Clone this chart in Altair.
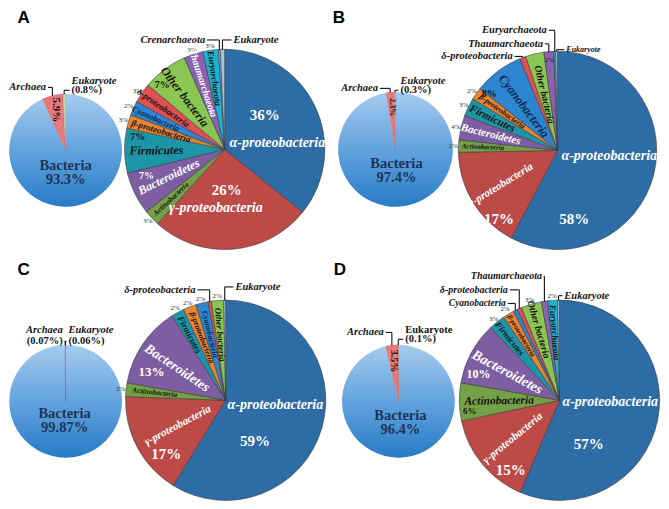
import math
import altair as alt
import pandas as pd

# ---------------- data ----------------
domain_names = ["Bacteria", "Archaea", "Eukaryote"]
domain_A = [93.3, 5.9, 0.8]
domain_B = [97.4, 2.3, 0.3]
domain_C = [99.87, 0.07, 0.06]
domain_D = [96.4, 3.5, 0.1]

taxa_A = ["α-proteobacteria", "γ-proteobacteria", "Actinobacteria", "Bacteroidetes", "Firmicutes",
          "β-proteobacteria", "Cyanobacteria", "δ-proteobacteria", "Other bacteria", "Thaumarchaeota",
          "Euryarchaeota", "Crenarchaeota", "Eukaryote"]
share_A = [35.8, 25.9, 2.6, 6.9, 7.2, 2.2, 2.3, 3.2, 7.3, 3.1, 2.5, 0.3, 0.7]
pct_A = ["36%", "26%", "3%", "7%", "7%", "3%", "2%", "3%", "7%", "3%", "3%", "", ""]

taxa_B = ["α-proteobacteria", "γ-proteobacteria", "Actinobacteria", "Bacteroidetes", "Firmicutes",
          "β-proteobacteria", "Cyanobacteria", "δ-proteobacteria", "Other bacteria", "Thaumarchaeota",
          "Euryarchaeota", "Eukaryote"]
share_B = [57.7, 17.0, 2.0, 4.0, 3.0, 2.0, 8.1, 1.0, 3.0, 1.6, 0.3, 0.3]
pct_B = ["58%", "17%", "2%", "4%", "3%", "2%", "8%", "", "", "2%", "", ""]

taxa_C = ["α-proteobacteria", "γ-proteobacteria", "Actinobacteria", "Bacteroidetes", "Firmicutes",
          "β-proteobacteria", "Cyanobacteria", "δ-proteobacteria", "Other bacteria", "Eukaryote"]
share_C = [58.8, 16.8, 2.2, 13.2, 2.1, 2.1, 2.0, 0.5, 2.0, 0.3]
pct_C = ["59%", "17%", "2%", "13%", "2%", "2%", "2%", "", "2%", ""]

taxa_D = ["α-proteobacteria", "γ-proteobacteria", "Actinobacteria", "Bacteroidetes", "Firmicutes",
          "β-proteobacteria", "Cyanobacteria", "δ-proteobacteria", "Other bacteria", "Thaumarchaeota",
          "Euryarchaeota", "Eukaryote"]
share_D = [56.4, 15.3, 6.1, 10.1, 2.7, 1.8, 0.7, 0.7, 3.3, 1.0, 1.6, 0.3]
pct_D = ["57%", "15%", "6%", "10%", "3%", "2%", "", "", "3%", "", "2%", ""]

# ---------------- layout / styles ----------------
CW, CH = 653, 493              # drawable area inside the 8px page margin
SX, SY = CW / 669.0, CH / 509.0  # map reference-picture coordinates into the drawable area
SR = (SX + SY) / 2
SERIF = "Liberation Serif"
SANS = "Liberation Sans"
W = "#ffffff"
K = "#141414"
NAVY = "#0f2a55"
TAXON_COLORS = {
    "α-proteobacteria": "#2e6ca5", "γ-proteobacteria": "#bc4a47", "Actinobacteria": "#74a046",
    "Bacteroidetes": "#7d5ea2", "Firmicutes": "#1d95a9", "β-proteobacteria": "#ea8431",
    "Cyanobacteria": "#2d84cf", "δ-proteobacteria": "#e05050", "Other bacteria": "#8cc652",
    "Thaumarchaeota": "#8a62b2", "Euryarchaeota": "#1ab3d1", "Crenarchaeota": "#8fa7c4",
    "Eukaryote": "#a4c0e3",
}
DOMAIN_COLORS = {"Archaea": "#e8787a", "Eukaryote": "#c4d89c"}
BACT_GRAD = alt.Gradient(
    gradient="linear",
    stops=[alt.GradientStop(color="#a6cbee", offset=0),
           alt.GradientStop(color="#5c9fdc", offset=0.55),
           alt.GradientStop(color="#287bc5", offset=1)],
    x1=0, x2=0, y1=0, y2=1)

LAB_A = {
    "α-proteobacteria": ("h", 5, -7, "left", 14, W),
    "γ-proteobacteria": ("h", -9, 61, "center", 14, W),
    "Actinobacteria": ("r", 0.73, 7.5, K),
    "Bacteroidetes": ("r", 0.62, 12, W),
    "Firmicutes": ("r", 0.68, 12, K),
    "β-proteobacteria": ("r", 0.66, 9, K),
    "Cyanobacteria": ("r", 0.75, 8.5, NAVY),
    "δ-proteobacteria": ("r", 0.74, 9, K),
    "Other bacteria": ("r", 0.66, 12, K),
    "Thaumarchaeota": ("r", 0.70, 10, W),
    "Euryarchaeota": ("r", 0.72, 9, K),
    "Crenarchaeota": ("lead", 202, 33, "right", 10.5),
    "Eukaryote": ("lead", 231, 33, "left", 10.5),
}
PCT_A = {
    "α-proteobacteria": ("xy", 41, -36, 15, W),
    "γ-proteobacteria": ("xy", 2, 42, 15, W),
    "Bacteroidetes": ("xy", -80, 27, 10, W),
    "Firmicutes": ("xy", -89, -13, 10, K),
    "Other bacteria": ("xy", -64, -67, 10, K),
}
LAB_B = {
    "α-proteobacteria": ("h", 4, 6, "left", 14, W),
    "γ-proteobacteria": ("r", 0.67, 11, W),
    "Actinobacteria": ("r", 0.75, 7, K),
    "Bacteroidetes": ("r", 0.69, 11, W),
    "Firmicutes": ("r", 0.73, 11, K),
    "β-proteobacteria": ("r", 0.68, 8, K),
    "Cyanobacteria": ("r", 0.56, 12.5, NAVY),
    "δ-proteobacteria": ("lead", 517, 50, "right", 10.5),
    "Other bacteria": ("r", 0.58, 10, K),
    "Thaumarchaeota": ("lead", 548, 37, "right", 10.5),
    "Euryarchaeota": ("lead", 552, 23, "right", 10.5),
    "Eukaryote": ("lead", 572, 43, "left", 8),
}
PCT_B = {
    "α-proteobacteria": ("xy", 17, 71, 15, W),
    "γ-proteobacteria": ("xy", -60, 71, 15, W),
    "Cyanobacteria": ("xy", -70, -58, 10, K),
    "Thaumarchaeota": ("r", 0.92, 7, K),
}
LAB_C = {
    "α-proteobacteria": ("h", 2, 5, "left", 14, W),
    "γ-proteobacteria": ("r", 0.54, 11, W),
    "Actinobacteria": ("r", 0.71, 7.5, K),
    "Bacteroidetes": ("r", 0.58, 13.5, W),
    "Firmicutes": ("r", 0.75, 9, K),
    "β-proteobacteria": ("r", 0.67, 8, K),
    "Cyanobacteria": ("r", 0.68, 8, NAVY),
    "δ-proteobacteria": ("lead", 192, 291, "right", 10.5),
    "Other bacteria": ("r", 0.66, 9, K),
    "Eukaryote": ("lead", 233, 288, "left", 10.5),
}
PCT_C = {
    "α-proteobacteria": ("xy", 30, 42, 15, W),
    "γ-proteobacteria": ("xy", -61, 55, 15, W),
    "Bacteroidetes": ("xy", -76, -29, 13, W),
}
LAB_D = {
    "α-proteobacteria": ("h", 3, 2, "left", 14, W),
    "γ-proteobacteria": ("r", 0.6, 11, W),
    "Actinobacteria": ("r", 0.6, 11.5, K),
    "Bacteroidetes": ("r", 0.59, 14, W),
    "Firmicutes": ("r", 0.79, 9, K),
    "β-proteobacteria": ("r", 0.75, 7, K),
    "Cyanobacteria": ("lead", 510, 305, "right", 9.5),
    "δ-proteobacteria": ("lead", 512, 291, "right", 10),
    "Other bacteria": ("r", 0.74, 10, K),
    "Thaumarchaeota": ("lead", 547, 277, "right", 10),
    "Euryarchaeota": ("r", 0.68, 9, K),
    "Eukaryote": ("lead", 570, 297, "left", 10.5),
}
PCT_D = {
    "α-proteobacteria": ("xy", 30, 45, 15, W),
    "γ-proteobacteria": ("xy", -50, 72, 15, W),
    "Actinobacteria": ("xy", -92, 11, 9, K),
    "Bacteroidetes": ("xy", -83, -27, 12, W),
    "β-proteobacteria": ("r", 1.06, 7, "#333333"),
}

PANELS = [
    dict(letter="A", letter_xy=(16, 10),
         small=dict(c=(59, 147), r=58, vals=domain_A, bact=("Bacteria", "93.3%"), bxy=(59, 163),
                    inner=("5.9%", 11, 0.74),
                    leaders=[("Archaea", 39, 82, "right", [("Archaea", 0, True)]),
                             ("Eukaryote", 65, 85, "left", [("Eukaryote", -10, True), ("(0.8%)", 0, False)])]),
         big=dict(c=(222, 146), r=103, names=taxa_A, vals=share_A, pcts=pct_A, lab=LAB_A, pct=PCT_A)),
    dict(letter="B", letter_xy=(339, 10),
         small=dict(c=(397, 146), r=59, vals=domain_B, bact=("Bacteria", "97.4%"), bxy=(398, 161),
                    inner=("2.3%", 8, 0.74),
                    leaders=[("Archaea", 379, 83, "right", [("Archaea", 0, True)]),
                             ("Eukaryote", 402, 85, "left", [("Eukaryote", -10, True), ("(0.3%)", 0, False)])]),
         big=dict(c=(563, 147), r=102, names=taxa_B, vals=share_B, pcts=pct_B, lab=LAB_B, pct=PCT_B)),
    dict(letter="C", letter_xy=(16, 270),
         small=dict(c=(59, 406), r=58, vals=domain_C, bact=("Bacteria", "99.87%"), bxy=(58, 419),
                    inner=None,
                    leaders=[("Archaea", 56, 344, "right", [("Archaea", -12, True), ("(0.07%)", 0, False)]),
                             ("Eukaryote", 62, 344, "left", [("Eukaryote", -12, True), ("(0.06%)", 0, False)])]),
         big=dict(c=(223, 405), r=103, names=taxa_C, vals=share_C, pcts=pct_C, lab=LAB_C, pct=PCT_C)),
    dict(letter="D", letter_xy=(340, 270),
         small=dict(c=(400, 406), r=58, vals=domain_D, bact=("Bacteria", "96.4%"), bxy=(402, 421),
                    inner=("3.5%", 10, 0.72),
                    leaders=[("Archaea", 385, 335, "right", [("Archaea", 0, True)]),
                             ("Eukaryote", 407, 342, "left", [("Eukaryote", -10, False), ("(0.1%)", 0, False)])]),
         big=dict(c=(565, 405), r=103, names=taxa_D, vals=share_D, pcts=pct_D, lab=LAB_D, pct=PCT_D)),
]


# ---------------- helpers ----------------
def M(x, y):
    return x * SX, y * SY


def slice_rows(names, values):
    tot = float(sum(values))
    rows, acc = [], 0.0
    for n, v in zip(names, values):
        s = acc / tot * 100
        acc += v
        e = acc / tot * 100
        rows.append(dict(name=n, start=s, end=e, mid=(s + e) / 2))
    return rows


def polar(cx, cy, r, pct):
    a = pct / 100.0 * 2 * math.pi
    return cx + r * math.sin(a), cy - r * math.cos(a)


def radial_angle(pct):
    th = pct * 3.6
    a = th - 90 if th < 180 else th - 270
    return a % 360


THETA = alt.Theta("start:Q", scale=alt.Scale(domain=[0, 100]))

arc_layers = []
texts = []
segs = []


def add_text(x, y, text, size, color, italic=True, bold=True, align="center", angle=0.0, font=SERIF):
    mx, my = M(x, y)
    texts.append(dict(x=mx, y=my, text=text, size=size, color=color,
                      italic=italic, bold=bold, align=align, angle=angle % 360, font=font))


def add_seg(x1, y1, x2, y2):
    a, b = M(x1, y1)
    c, d = M(x2, y2)
    segs.append(dict(x=a, y=b, x2=c, y2=d))


def add_leader(cx, cy, r, mid, lx, ly, align, lines, size):
    ex, ey = polar(cx, cy, r, mid)
    sx = lx + 2 if align == "right" else lx - 2
    add_seg(sx, ly, ex, ly)
    add_seg(ex, ly, ex, ey)
    for t, dy, it in lines:
        add_text(lx, ly + dy, t, size, K, italic=it, bold=True, align=align)


def arc_chart(df, c, r, **kw):
    mx, my = M(*c)
    return alt.Chart(df).mark_arc(x=mx, y=my, outerRadius=r * SR, **kw)


for p in PANELS:
    add_text(p["letter_xy"][0], p["letter_xy"][1], p["letter"], 17, "#000000",
             italic=False, bold=True, font=SANS)

    # ---- small (domain) pie ----
    s = p["small"]
    cx, cy = s["c"]
    rows = slice_rows(domain_names, s["vals"])
    df = pd.DataFrame(rows)
    df["color"] = [DOMAIN_COLORS.get(n, "#5c9fdc") for n in df["name"]]
    bact = df[df["name"] == "Bacteria"]
    rest = df[df["name"] != "Bacteria"]
    arc_layers.append(
        arc_chart(bact, s["c"], s["r"], fill=BACT_GRAD).encode(theta=THETA, theta2="end:Q"))
    arc_layers.append(
        arc_chart(rest, s["c"], s["r"], stroke="#b05a5a", strokeWidth=0.3)
        .encode(theta=THETA, theta2="end:Q", color=alt.Color("color:N", scale=None, legend=None)))
    bx, by = s["bxy"]
    add_text(bx, by, s["bact"][0], 14.5, "#1f3456", italic=False)
    add_text(bx, by + 15, s["bact"][1], 14.5, "#1f3456", italic=False)
    mids = {r_["name"]: r_["mid"] for r_ in rows}
    if s["inner"]:
        t, sz, rf = s["inner"]
        x, y = polar(cx, cy, s["r"] * rf, mids["Archaea"])
        add_text(x, y, t, sz, K, italic=False, angle=90)
    for name, lx, ly, al, lines in s["leaders"]:
        add_leader(cx, cy, s["r"], mids[name], lx, ly, al, lines, 10.5)

    # ---- big (taxon) pie ----
    b = p["big"]
    cx, cy = b["c"]
    R = b["r"]
    rows = slice_rows(b["names"], b["vals"])
    df = pd.DataFrame(rows)
    df["color"] = [TAXON_COLORS[n] for n in df["name"]]
    arc_layers.append(
        arc_chart(df, b["c"], R, stroke="#3c3c3c", strokeWidth=0.6)
        .encode(theta=THETA, theta2="end:Q", color=alt.Color("color:N", scale=None, legend=None)))
    for r_, pt in zip(rows, b["pcts"]):
        n, mid = r_["name"], r_["mid"]
        spec = b["lab"].get(n)
        if spec:
            if spec[0] == "h":
                _, dx, dy, al, sz, col = spec
                add_text(cx + dx, cy + dy, n, sz, col, align=al)
            elif spec[0] == "r":
                _, rf, sz, col = spec
                x, y = polar(cx, cy, R * rf, mid)
                add_text(x, y, n, sz, col, angle=radial_angle(mid))
            else:
                _, lx, ly, al, sz = spec
                add_leader(cx, cy, R, mid, lx, ly, al, [(n, 0, True)], sz)
        if pt:
            ps = b["pct"].get(n)
            if ps is None:
                x, y = polar(cx, cy, R + 5, mid)
                add_text(x, y, pt, 7, "#333333", italic=False, bold=False)
            elif ps[0] == "xy":
                _, dx, dy, sz, col = ps
                add_text(cx + dx, cy + dy, pt, sz, col, italic=False)
            else:
                _, rf, sz, col = ps
                x, y = polar(cx, cy, R * rf, mid)
                add_text(x, y, pt, sz, col, italic=False, bold=False)

# ---------------- text and leader layers ----------------
tdf = pd.DataFrame(texts)
text_layers = []
for (it, bd, al, font), g in tdf.groupby(["italic", "bold", "align", "font"]):
    text_layers.append(
        alt.Chart(g).mark_text(align=al, baseline="middle", font=font,
                               fontStyle="italic" if it else "normal",
                               fontWeight="bold" if bd else "normal")
        .encode(x=alt.X("x:Q", scale=None, axis=None),
                y=alt.Y("y:Q", scale=None, axis=None),
                text="text:N",
                size=alt.Size("size:Q", scale=None, legend=None),
                angle=alt.Angle("angle:Q", scale=None),
                color=alt.Color("color:N", scale=None, legend=None)))

sdf = pd.DataFrame(segs)
rule_layer = alt.Chart(sdf).mark_rule(stroke="#111111", strokeWidth=1.1).encode(
    x=alt.X("x:Q", scale=None, axis=None), y=alt.Y("y:Q", scale=None, axis=None),
    x2="x2:Q", y2="y2:Q")

chart = alt.layer(*arc_layers, rule_layer, *text_layers).properties(
    width=CW, height=CH, autosize="none", padding=0
).configure_view(stroke=None).resolve_scale(theta="shared")

chart.save("out.html", embed_options={"renderer": "svg", "actions": False})
